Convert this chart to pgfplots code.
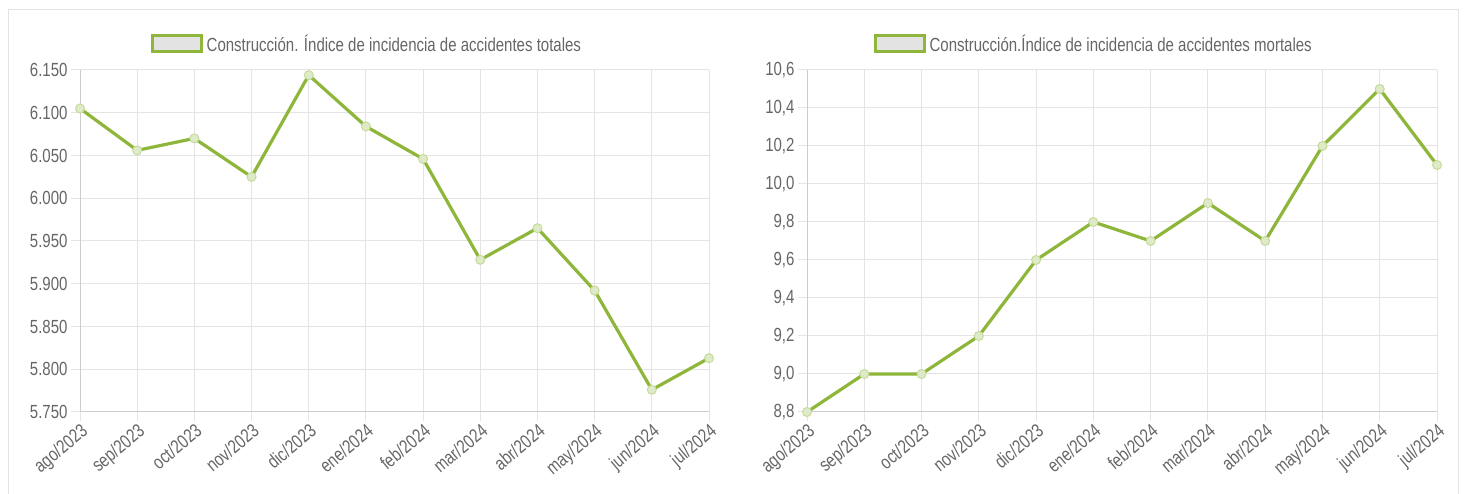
\documentclass[border=0pt]{standalone}
\usepackage{fontspec}
\setmainfont{Liberation Sans}[FakeStretch=0.79]
\usepackage{pgfplots}
\pgfplotsset{compat=1.18}

\definecolor{lg}{RGB}{141,182,58}
\definecolor{txt}{RGB}{102,102,102}
\definecolor{gridc}{RGB}{228,228,228}
\definecolor{axc}{RGB}{205,205,205}

\newcommand{\tf}{\fontsize{19}{21}\selectfont}

\pgfplotsset{
  panel/.style={
    scale only axis, width=629pt, height=342pt, anchor=south west,
    xmin=0, xmax=11, xtick={0,...,11},
    xticklabels={ago/2023,sep/2023,oct/2023,nov/2023,dic/2023,ene/2024,
                 feb/2024,mar/2024,abr/2024,may/2024,jun/2024,jul/2024},
    x tick label style={rotate=40, anchor=north east, font=\tf, inner sep=1pt},
    y tick label style={font=\tf},
    every tick label/.append style={text=txt},
    grid=major, grid style={gridc, line width=1pt},
    axis x line*=bottom, axis y line*=left,
    axis line style={axc, line width=1pt},
    tick align=outside, major tick length=9pt,
    tick style={gridc, line width=1pt},
    /pgf/number format/assume math mode=true,
    scaled y ticks=false,
    legend style={draw=none, fill=none, font=\tf, text=txt, anchor=center,
                  /tikz/every even column/.append style={column sep=4pt}},
    legend image code/.code={
      \draw[lg, line width=3pt, fill=gray!22] (-4pt,-8pt) rectangle (45pt,8pt);
      \path (47pt,0pt);},
  },
  serie/.style={lg, line width=3.2pt, mark=*, mark size=4.5pt,
    mark options={draw=lg!50, fill=lg!28, line width=1pt}},
}

\begin{document}
\begin{tikzpicture}
\useasboundingbox (0pt,0pt) rectangle (1467pt,494pt);
\draw[gray!22, line width=1pt] (8pt,-2pt) |- (1458pt,484pt) -- (1458pt,-2pt);

\begin{axis}[panel, at={(80pt,82pt)},
    ymin=5750, ymax=6150, ytick={5750,5800,...,6150},
    yticklabel style={/pgf/number format/.cd, fixed, 1000 sep={.}},
    legend style={at={(0.456,1.076)}}]
  \addplot[serie] coordinates {
    (0,6105) (1,6056) (2,6070) (3,6025) (4,6144) (5,6084)
    (6,6046) (7,5928) (8,5965) (9,5892) (10,5776) (11,5813)
  };
  \addlegendentry{Construcción. Índice de incidencia de accidentes totales}
\end{axis}

\begin{axis}[panel, at={(807pt,82pt)}, width=630pt,
    ymin=8.8, ymax=10.6, ytick={8.8,9.0,...,10.6},
    yticklabel style={/pgf/number format/.cd, fixed, fixed zerofill, precision=1, use comma},
    legend style={at={(0.455,1.076)}}]
  \addplot[serie] coordinates {
    (0,8.8) (1,9.0) (2,9.0) (3,9.2) (4,9.6) (5,9.8)
    (6,9.7) (7,9.9) (8,9.7) (9,10.2) (10,10.5) (11,10.1)
  };
  \addlegendentry{Construcción.Índice de incidencia de accidentes mortales}
\end{axis}
\end{tikzpicture}
\end{document}
